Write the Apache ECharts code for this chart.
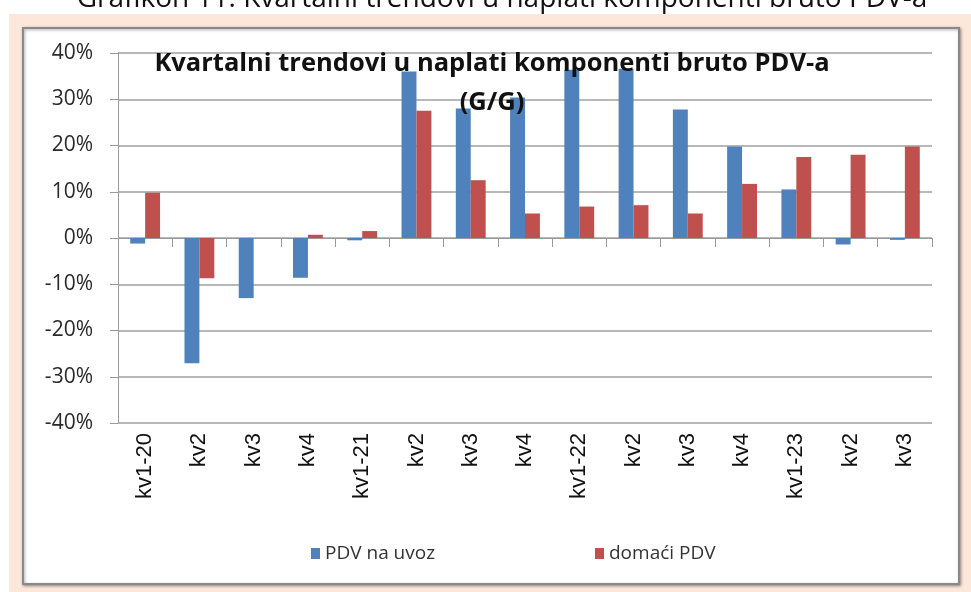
<!DOCTYPE html>
<html>
<head>
<meta charset="utf-8">
<script src="https://cdn.jsdelivr.net/npm/echarts@6/dist/echarts.min.js"></script>
<style>
html,body{margin:0;padding:0;background:#fff;}
#c{width:971px;height:592px;}
</style>
</head>
<body>
<div id="c"></div>
<script>
var categories = ['kv1-20','kv2','kv3','kv4','kv1-21','kv2','kv3','kv4','kv1-22','kv2','kv3','kv4','kv1-23','kv2','kv3'];
var pdvUvoz = [-1.2, -27.1, -13.0, -8.6, -0.5, 36.0, 28.0, 30.4, 36.4, 36.6, 27.8, 19.8, 10.5, -1.4, -0.4];
var domaciPdv = [9.8, -8.7, 0, 0.7, 1.5, 27.5, 12.5, 5.3, 6.8, 7.1, 5.3, 11.7, 17.5, 18.0, 19.8];
var seriesNames = ['PDV na uvoz', 'domaći PDV'];
var yMin = -40, yMax = 40, yStep = 10;

var chart = echarts.init(document.getElementById('c'), null, {renderer: 'canvas'});
chart.setOption({
  animation: false,
  backgroundColor: '#ffffff',
  graphic: [
    {type: 'rect', z: -10, shape: {x: 9, y: 14, width: 962, height: 578}, style: {fill: '#fce7da'}},
    {type: 'rect', z: -9, shape: {x: 23, y: 28, width: 936, height: 556},
      style: {fill: '#ffffff', stroke: '#8a8a8a', lineWidth: 2, shadowBlur: 3, shadowColor: 'rgba(0,0,0,0.35)', shadowOffsetX: 1, shadowOffsetY: 1}},
    {type: 'text', z: 100, x: 502, y: -1,
      style: {text: 'Grafikon 11: Kvartalni trendovi u naplati komponenti bruto PDV-a', font: '28px "Open Sans"', fill: '#111', align: 'center', verticalAlign: 'middle'}},
    {type: 'text', z: 100, x: 492, y: 64,
      style: {text: 'Kvartalni trendovi u naplati komponenti bruto PDV-a', font: 'bold 25.5px "Open Sans"', fill: '#111', align: 'center', verticalAlign: 'middle'}},
    {type: 'text', z: 100, x: 492, y: 103,
      style: {text: '(G/G)', font: 'bold 25.5px "Open Sans"', fill: '#111', align: 'center', verticalAlign: 'middle'}}
  ],
  legend: [
    {data: [seriesNames[0]], left: 306, top: 539, icon: 'rect', itemWidth: 9, itemHeight: 11, itemGap: 6,
      textStyle: {fontSize: 19, fontFamily: 'Open Sans', color: '#333'}},
    {data: [seriesNames[1]], left: 590, top: 539, icon: 'rect', itemWidth: 9, itemHeight: 11, itemGap: 6,
      textStyle: {fontSize: 19, fontFamily: 'Open Sans', color: '#333'}}
  ],
  grid: {left: 118, right: 39, top: 53, bottom: 169, containLabel: false},
  xAxis: [
    {type: 'category', data: categories, position: 'bottom',
      axisLine: {onZero: true, lineStyle: {color: '#9a9a9a', width: 1}},
      axisTick: {show: true, length: 9, alignWithLabel: false, lineStyle: {color: '#9a9a9a'}},
      axisLabel: {show: false}, splitLine: {show: false}},
    {type: 'category', data: categories, position: 'bottom',
      axisLine: {show: false, onZero: false}, axisTick: {show: false},
      axisLabel: {show: true, rotate: 90, fontSize: 22, fontFamily: 'Liberation Sans', color: '#111', margin: 10, interval: 0},
      splitLine: {show: false}}
  ],
  yAxis: {
    type: 'value', min: yMin, max: yMax, interval: yStep,
    axisLine: {show: true, lineStyle: {color: '#9a9a9a'}},
    axisTick: {show: true, length: 8, lineStyle: {color: '#9a9a9a'}},
    axisLabel: {formatter: '{value}%', fontSize: 21, fontFamily: 'Open Sans', color: '#2a2a2a', margin: 25},
    splitLine: {show: true, lineStyle: {color: '#a0a0a0', width: 1.5}}
  },
  series: [
    {name: seriesNames[0], type: 'bar', xAxisIndex: 0, data: pdvUvoz, itemStyle: {color: '#4f81bd'},
      barGap: '0%', barCategoryGap: '45%'},
    {name: seriesNames[1], type: 'bar', xAxisIndex: 0, data: domaciPdv, itemStyle: {color: '#c0504d'},
      barGap: '0%', barCategoryGap: '45%'}
  ]
});
</script>
</body>
</html>
